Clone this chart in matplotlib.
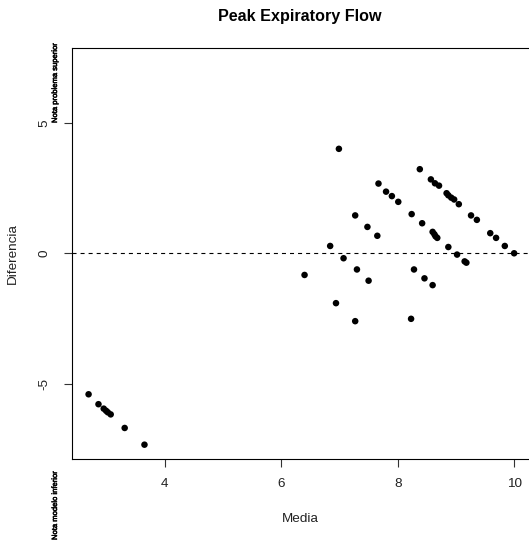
import matplotlib
matplotlib.use("Agg")
import matplotlib.pyplot as plt
import matplotlib.patheffects as pe

plt.rcParams['font.family'] = ['Liberation Sans', 'DejaVu Sans']
plt.rcParams['lines.scale_dashes'] = False

media = [2.69, 2.86, 2.95, 2.99, 3.02, 3.07, 3.31, 3.65,
         6.40, 6.84, 6.94, 6.99, 7.07, 7.27, 7.27, 7.30, 7.48, 7.50,
         7.65, 7.67, 7.80, 7.90, 8.01, 8.23, 8.24, 8.28, 8.38, 8.42,
         8.46, 8.57, 8.60, 8.60, 8.63, 8.64, 8.65, 8.68, 8.71, 8.84,
         8.87, 8.87, 8.92, 8.97, 9.02, 9.05, 9.15, 9.18, 9.26, 9.36,
         9.59, 9.69, 9.84, 10.00]
diferencia = [-5.40, -5.78, -5.95, -6.03, -6.09, -6.17, -6.69, -7.33,
              -0.83, 0.28, -1.91, 4.00, -0.19, 1.45, -2.60, -0.62, 1.01, -1.05,
              0.67, 2.67, 2.36, 2.19, 1.97, -2.51, 1.50, -0.62, 3.22, 1.15,
              -0.96, 2.83, 0.82, -1.22, 0.73, 2.68, 0.65, 0.59, 2.59, 2.30,
              0.24, 2.22, 2.13, 2.06, -0.05, 1.88, -0.31, -0.36, 1.45, 1.28,
              0.77, 0.59, 0.28, 0.00]

x_ticks = [4, 6, 8, 10]
y_ticks = [-5, 0, 5]

title = "Peak Expiratory Flow"
x_label = "Media"
y_label = "Diferencia"
note_upper = "Nota problema superior"
note_lower = "Nota modelo inferior"

W, H = 529, 544
fig = plt.figure(figsize=(W / 100, H / 100), dpi=100)
left_px, right_px, top_px, bottom_px = 71.7, 531.0, 48.3, 459.3
ax = fig.add_axes([left_px / W, 1 - bottom_px / H,
                   (right_px - left_px) / W, (bottom_px - top_px) / H])

ax.scatter(media, diferencia, s=22, color='black', edgecolors='none', zorder=3)
ax.axhline(0, color='black', lw=0.8, ls=(0, (2.9, 2.9)), zorder=2)

ax.set_xlim(2.40, 10.29)
ax.set_ylim(-7.89, 7.85)
ax.set_xticks(x_ticks)
ax.set_xticklabels([str(t) for t in x_ticks])
ax.set_yticks(y_ticks)
ax.set_yticklabels([str(t) for t in y_ticks], rotation=90, va='center')

for sp in ax.spines.values():
    sp.set_linewidth(0.8)
    sp.set_color('black')
ax.tick_params(axis='both', length=5.8, width=0.8, color='#333333',
               labelsize=9.7, labelcolor='#222222')
ax.tick_params(axis='x', pad=8.0)
ax.tick_params(axis='y', pad=9.5)

ax.set_xlabel(x_label, fontsize=9.7, color='#222222')
ax.xaxis.set_label_coords(0.497, -0.145)
ax.xaxis.label.set_va('center')
ax.set_ylabel(y_label, fontsize=9.7, color='#222222')
ax.yaxis.set_label_coords(-0.128, 0.5)
ax.yaxis.label.set_va('center')

fig.text(300 / W, 1 - 17 / H, title, ha='center', va='center',
         fontsize=11.6, fontweight='bold')

stroke = [pe.withStroke(linewidth=0.35, foreground='black')]
fig.text(55.5 / W, 1 - 123 / H, note_upper, rotation=90, ha='center',
         va='bottom', fontsize=5.5, path_effects=stroke)
fig.text(55.5 / W, 1 - 540 / H, note_lower, rotation=90, ha='center',
         va='bottom', fontsize=5.5, path_effects=stroke)

fig.savefig("out.png", dpi=100)
